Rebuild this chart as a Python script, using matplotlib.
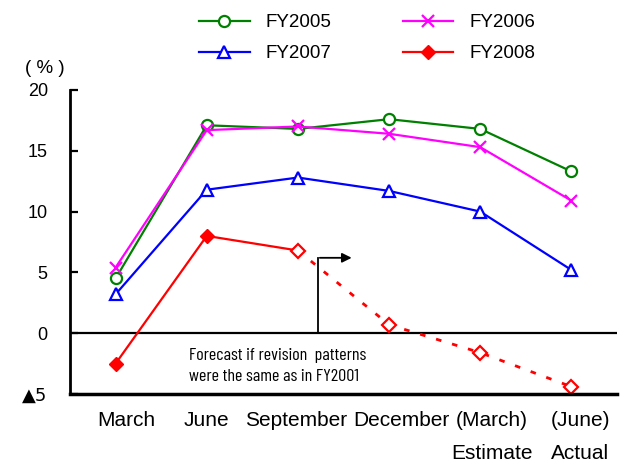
import matplotlib.pyplot as plt
from matplotlib import font_manager
from matplotlib.transforms import ScaledTranslation

plt.rcParams["font.family"] = ["Liberation Sans", "DejaVu Sans"]

periods = ["March", "June", "September", "December", "(March)\nEstimate", "(June)\nActual"]
fy2005 = [4.5, 17.1, 16.8, 17.6, 16.8, 13.3]
fy2006 = [5.4, 16.7, 17.0, 16.4, 15.3, 10.9]
fy2007 = [3.2, 11.8, 12.8, 11.7, 10.0, 5.2]
fy2008_actual = [-2.5, 8.0, 6.8]
fy2008_forecast = [6.8, 0.7, -1.6, -4.4]
yticks = [20, 15, 10, 5, 0, -5]
ytick_labels = ["20", "15", "10", "5", "0", "\u25b25"]

# condensed face for the forecast note, whichever is installed
installed = {f.name for f in font_manager.fontManager.ttflist}
narrow = next((n for n in ["Barlow Condensed", "Sofia Sans Condensed", "Saira Condensed",
                           "Roboto Condensed", "Archivo Narrow", "PT Sans Narrow"]
               if n in installed), "Liberation Sans")

fig = plt.figure(figsize=(6.21, 4.63), dpi=100)
ax = fig.add_axes([70 / 621, 1 - 394 / 463, 547 / 621, 304 / 463])

x = list(range(len(periods)))
lw, ms = 1.6, 8
l05, = ax.plot(x, fy2005, color="green", lw=lw, marker="o", ms=ms, mfc="white", mew=1.6, label="FY2005")
l06, = ax.plot(x, fy2006, color="magenta", lw=lw, marker="x", ms=ms + 1, mew=1.6, label="FY2006")
l07, = ax.plot(x, fy2007, color="blue", lw=lw, marker="^", ms=ms, mfc="white", mew=1.6, label="FY2007")
l08, = ax.plot(x[:2], fy2008_actual[:2], color="red", lw=lw, marker="D", ms=7, label="FY2008")
ax.plot(x[1:3], fy2008_actual[1:3], color="red", lw=lw)
ax.plot(x[2:], fy2008_forecast, color="red", lw=2, ls=(0, (2, 4)), marker="D",
        ms=7, mfc="white", mew=1.6)

ax.axhline(0, color="black", lw=1.6, zorder=0)

# arrow marking start of forecast
ax.plot([2.22, 2.22], [0, 6.2], color="black", lw=1.3)
ax.annotate("", xy=(2.62, 6.2), xytext=(2.21, 6.2),
            arrowprops=dict(arrowstyle="-|>", color="black", lw=1.3, mutation_scale=14))
ax.text(0.80, -2.7, "Forecast if revision  patterns\nwere the same as in FY2001",
        ha="left", va="center", fontsize=13, linespacing=1.55,
        family=[narrow, "DejaVu Sans"])

ax.set_xlim(-0.5, 5.5)
ax.set_ylim(-5, 20)
ax.set_yticks(yticks)
ax.set_yticklabels(ytick_labels)
ax.get_yticklabels()[-1].set_family(["DejaVu Sans"])
ax.set_xticks(x)
ax.set_xticklabels(periods, linespacing=1.95, va="top")
ax.tick_params(axis="y", direction="in", length=6, width=1.6, pad=16, labelsize=13)
ax.tick_params(axis="x", length=0, pad=12, labelsize=15)
label_shift = [11, 0, -2, 12, 12, 9]
for lab, dx in zip(ax.get_xticklabels(), label_shift):
    lab.set_transform(lab.get_transform() + ScaledTranslation(dx / 100, 0, fig.dpi_scale_trans))
for s in ["top", "right"]:
    ax.spines[s].set_visible(False)
ax.spines["left"].set_linewidth(2)
ax.spines["bottom"].set_linewidth(2.5)

ax.text(-0.78, 21.8, "( % )", ha="center", va="center", fontsize=13.5)

fig.legend([l05, l07, l06, l08], ["FY2005", "FY2007", "FY2006", "FY2008"],
           loc="upper left", bbox_to_anchor=(182 / 621, 1.006), ncol=2, frameon=False,
           fontsize=13.5, handlelength=2.7, columnspacing=3.8, labelspacing=0.75,
           handletextpad=0.85)

fig.savefig("out.png", dpi=100)
